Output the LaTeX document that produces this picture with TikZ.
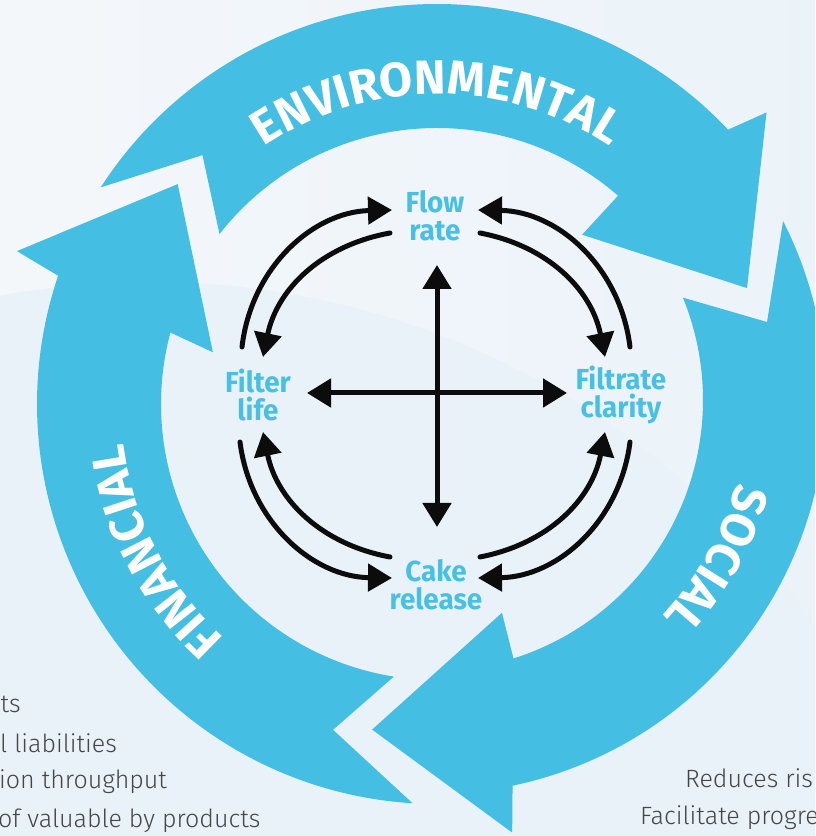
\documentclass[tikz,border=0pt]{standalone}
\usepackage{fontspec}
\setmainfont{Fira Sans}
\newfontfamily\lblfont{Fira Sans}[FakeStretch=0.96]
\newfontfamily\lightfont{Fira Sans Light}
\usetikzlibrary{arrows.meta,decorations.text}
\definecolor{ringblue}{RGB}{68,190,226}
\definecolor{lblblue}{RGB}{72,192,228}
\definecolor{bglight}{RGB}{244,247,250}
\definecolor{bgblue}{RGB}{233,242,249}
\definecolor{txtgray}{RGB}{70,70,72}
\definecolor{ink}{RGB}{12,12,12}
\newcommand\ringtxt{\fontsize{48}{52}\selectfont\bfseries}
\tikzset{
  ring/.style={fill=ringblue},
  lbl/.style={text=lblblue, align=center, font=\lblfont\bfseries\fontsize{29}{28}\selectfont, inner sep=2pt},
  biarc/.style={draw=ink, line width=5pt, line cap=round, -{Triangle[length=24pt,width=27pt]}},
  crossarr/.style={draw=ink, line width=5pt, {Triangle[length=24pt,width=28pt]}-{Triangle[length=24pt,width=28pt]}},
  note/.style={text=txtgray, font=\lightfont\fontsize{25}{30}\selectfont, inner sep=0pt, anchor=base west},
  ringtext/.style={decorate, decoration={text along path, text align=center, text color=white, text={|\ringtxt|#1}}}
}
\begin{document}
\begin{tikzpicture}[x=1pt,y=1pt]
\useasboundingbox (0,0) rectangle (815,836);
\clip (0,0) rectangle (815,836);
% background
\shade[left color=bglight, right color=bgblue!80!bglight] (0,0) rectangle (815,836);
\fill[bgblue] (150,-261) circle[radius=815];
% ring arrows
\begin{scope}[shift={(437,432)}]
  % environmental
  \fill[ring] (147.2:400) arc[start angle=147.2,end angle=43.3,radius=400]
     -- (41.5:440) -- (20.5:331) -- (49.4:223) -- (49:276)
     arc[start angle=49,end angle=142,radius=276] -- (133.3:342) -- cycle;
  % financial
  \fill[ring] (266.5:400) arc[start angle=266.5,end angle=161.3,radius=400]
     -- (160:447) -- (139.7:340) -- (167:230) -- (165:276)
     arc[start angle=165,end angle=261,radius=276] -- (252.3:342) -- cycle;
  \path[ringtext=ENVIRONMENTAL] (180:310) arc[start angle=180,end angle=0,radius=310];
  \path[ringtext=FINANCIAL] (297.5:316) arc[start angle=297.5,end angle=117.5,radius=316];
\end{scope}
\begin{scope}[shift={(432,436)}]
  % social
  \fill[ring] (27:394) arc[start angle=27,end angle=-78.2,radius=394]
     -- (-79.5:440) -- (-100.3:335) -- (-71.8:224) -- (-72.5:271)
     arc[start angle=-72.5,end angle=22.2,radius=271] -- (13.1:344) -- cycle;
  \path[ringtext=SOCIAL] (60.9:316) arc[start angle=60.9,end angle=-119.1,radius=316];
\end{scope}
% labels
\node[lbl] (flow) at (435,620) {Flow\\rate};
\node[lbl] (filter) at (258,441) {Filter\\life};
\node[lbl] (filtrate) at (621,441) {Filtrate\\clarity};
\node[lbl] (cake) at (436,251) {Cake\\release};
% arc end points
\coordinate (tlOs) at (242,489); \coordinate (tlOe) at (392,626);
\coordinate (tlIs) at (390,603); \coordinate (tlIe) at (263,479);
\coordinate (trOs) at (630,489); \coordinate (trOe) at (478,626);
\coordinate (trIs) at (480,603); \coordinate (trIe) at (605,479);
\coordinate (blOs) at (240,394); \coordinate (blOe) at (392,258);
\coordinate (blIs) at (390,279); \coordinate (blIe) at (263,404);
\coordinate (brOs) at (630,394); \coordinate (brOe) at (478,258);
\coordinate (brIs) at (480,279); \coordinate (brIe) at (605,404);
\draw[biarc] (tlOs) to[bend left=41] (tlOe);
\draw[biarc] (tlIs) to[bend right=34] (tlIe);
\draw[biarc] (trOs) to[bend right=41] (trOe);
\draw[biarc] (trIs) to[bend left=34] (trIe);
\draw[biarc] (blOs) to[bend right=41] (blOe);
\draw[biarc] (blIs) to[bend left=34] (blIe);
\draw[biarc] (brOs) to[bend left=41] (brOe);
\draw[biarc] (brIs) to[bend right=34] (brIe);
% cross
\coordinate (vt) at (437,571); \coordinate (vb) at (437,309);
\coordinate (hl) at (307,443); \coordinate (hr) at (567,443);
\draw[crossarr] (vt) -- (vb);
\draw[crossarr] (hl) -- (hr);
% notes
\node[note, anchor=base east] (n1) at (21,123) {sts};
\node[note] (n2) at (0,83) {l liabilities};
\node[note] (n3) at (-1,47) {ion throughput};
\node[note] (n4) at (-2,9) {of valuable by products};
\node[note] (n5) at (685,48) {Reduces ris};
\node[note] (n6) at (640,11) {Facilitate progre};
\end{tikzpicture}
\end{document}
